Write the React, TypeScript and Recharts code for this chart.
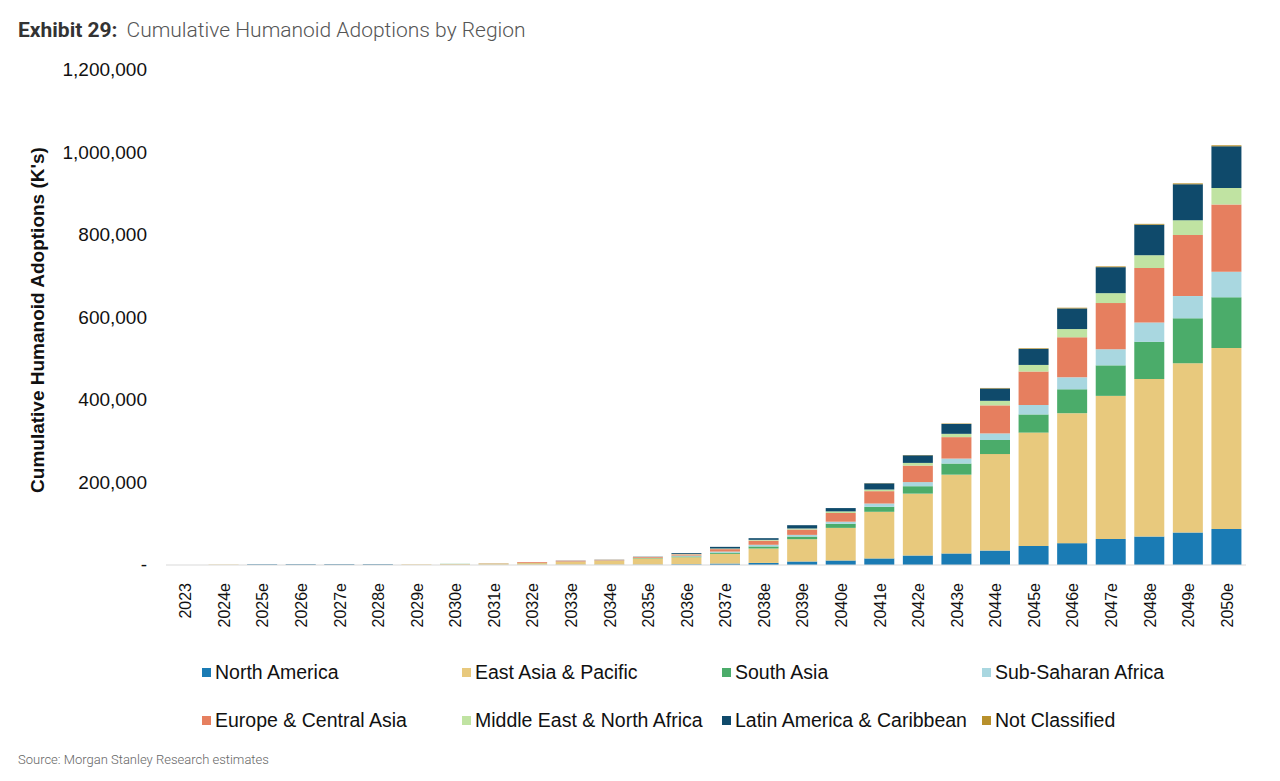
import React from "react";
import { BarChart, Bar, XAxis, YAxis } from "recharts";

const years = [
  "2023", "2024e", "2025e", "2026e", "2027e", "2028e", "2029e", "2030e", "2031e", "2032e",
  "2033e", "2034e", "2035e", "2036e", "2037e", "2038e", "2039e", "2040e", "2041e", "2042e",
  "2043e", "2044e", "2045e", "2046e", "2047e", "2048e", "2049e", "2050e",
];

const northAmerica = [
  0, 0, 1200, 1200, 1200, 1200, 0, 300, 500, 600, 800, 800, 1000, 1800, 3500, 5000, 8500, 11000,
  16000, 23000, 28000, 35000, 46000, 53000, 63000, 69000, 79000, 87000,
];
const eastAsiaPacific = [
  0, 1000, 0, 0, 0, 0, 1500, 2000, 3000, 4000, 7000, 9500, 15000, 17000, 23500, 35000, 54000, 79000,
  113000, 150000, 191000, 234000, 275000, 315000, 347000, 382000, 410000, 439000,
];
const southAsia = [
  0, 0, 0, 0, 0, 0, 0, 500, 300, 300, 400, 500, 1000, 2000, 3000, 5000, 6500, 10000, 12000, 18000,
  27000, 34000, 44000, 58000, 74000, 90000, 109000, 123000,
];
const subSaharanAfrica = [
  0, 0, 0, 0, 0, 0, 0, 0, 0, 0, 200, 300, 500, 2000, 2500, 4000, 4000, 5000, 8000, 10000, 12000,
  16000, 23000, 29000, 39000, 47000, 54000, 62000,
];
const europeCentralAsia = [
  0, 0, 0, 0, 0, 0, 0, 0, 500, 2000, 2000, 1500, 2000, 3000, 6000, 10000, 13000, 21000, 30000,
  40000, 52000, 68000, 81000, 97000, 112000, 132000, 148000, 163000,
];
const middleEastNorthAfrica = [
  0, 0, 0, 0, 0, 0, 0, 0, 0, 0, 100, 200, 300, 1000, 1500, 2000, 2500, 4000, 4000, 6500, 8000,
  11000, 16000, 20000, 24000, 31000, 36000, 40000,
];
const latinAmericaCaribbean = [
  0, 0, 800, 800, 800, 800, 0, 0, 0, 0, 300, 300, 500, 2000, 4000, 4000, 8000, 8000, 15000, 18500,
  24000, 30000, 39000, 50000, 63000, 74000, 87000, 101000,
];
const notClassified = [
  0, 0, 0, 0, 0, 0, 0, 0, 0, 0, 0, 0, 0, 0, 0, 0, 0, 0, 500, 700, 1000, 1200, 1500, 1700, 1900,
  2000, 2200, 2500,
];

const yTicks = [0, 200000, 400000, 600000, 800000, 1000000, 1200000];

const series = [
  { key: "na", name: "North America", color: "#1a7bb4", values: northAmerica },
  { key: "eap", name: "East Asia & Pacific", color: "#e8c97d", values: eastAsiaPacific },
  { key: "sa", name: "South Asia", color: "#4bac6a", values: southAsia },
  { key: "ssa", name: "Sub-Saharan Africa", color: "#a9d7e0", values: subSaharanAfrica },
  { key: "eca", name: "Europe & Central Asia", color: "#e67f5f", values: europeCentralAsia },
  { key: "mena", name: "Middle East & North Africa", color: "#c0e3a2", values: middleEastNorthAfrica },
  { key: "lac", name: "Latin America & Caribbean", color: "#0f4a6b", values: latinAmericaCaribbean },
  { key: "nc", name: "Not Classified", color: "#b8902b", values: notClassified },
];

const data = years.map((year, i) => {
  const row: Record<string, string | number> = { year };
  series.forEach((s) => {
    row[s.key] = s.values[i];
  });
  return row;
});

const axisFont = "'Liberation Sans', Arial, sans-serif";

const YTick = (props: any) => {
  const { y, payload } = props;
  const label = payload.value === 0 ? "-" : payload.value.toLocaleString("en-US");
  return (
    <text x={147} y={y} dy={6} textAnchor="end" fontSize={19} fontFamily={axisFont} fill="#111">
      {label}
    </text>
  );
};

const XTick = (props: any) => {
  const { x, y, payload } = props;
  return (
    <text
      x={0}
      y={0}
      transform={`translate(${x + 6},${y + 10}) rotate(-90)`}
      textAnchor="end"
      fontSize={16}
      fontFamily={axisFont}
      fill="#111"
    >
      {payload.value}
    </text>
  );
};

export default function App() {
  return (
    <div
      style={{
        position: "absolute",
        left: 0,
        top: 0,
        width: 1280,
        height: 781,
        background: "#fff",
        overflow: "hidden",
      }}
    >
      <div
        style={{
          position: "absolute",
          left: 18,
          top: 18,
          fontFamily: "Roboto, sans-serif",
          fontSize: 21,
          whiteSpace: "nowrap",
        }}
      >
        <span style={{ fontWeight: 700, color: "#333" }}>Exhibit 29:</span>
        <span style={{ color: "#555", fontWeight: 300, marginLeft: 9 }}>
          Cumulative Humanoid Adoptions by Region
        </span>
      </div>

      <div
        style={{
          position: "absolute",
          left: 38,
          top: 320,
          transform: "translate(-50%, -50%) rotate(-90deg)",
          fontFamily: axisFont,
          fontWeight: 700,
          fontSize: 19,
          color: "#111",
          whiteSpace: "nowrap",
        }}
      >
        Cumulative Humanoid Adoptions (K's)
      </div>

      <div style={{ position: "absolute", left: 0, top: 0 }}>
        <BarChart
          width={1280}
          height={660}
          data={data}
          margin={{ top: 70, right: 34, bottom: 0, left: 0 }}
          barSize={30}
        >
          <XAxis
            dataKey="year"
            tick={<XTick />}
            tickLine={false}
            axisLine={{ stroke: "#d9d9d9" }}
            height={95}
            interval={0}
          />
          <YAxis
            width={166}
            domain={[0, 1200000]}
            ticks={yTicks}
            tick={<YTick />}
            tickLine={false}
            axisLine={false}
            interval={0}
          />
          {series.map((s) => (
            <Bar
              key={s.key}
              dataKey={s.key}
              name={s.name}
              stackId="a"
              fill={s.color}
              isAnimationActive={false}
            />
          ))}
        </BarChart>
      </div>

      {series.map((s, i) => {
        const col = i % 4;
        const row = Math.floor(i / 4);
        return (
          <div
            key={s.key}
            style={{
              position: "absolute",
              left: 202 + col * 260,
              top: 661 + row * 48,
              display: "flex",
              alignItems: "center",
              fontFamily: axisFont,
              fontSize: 19.5,
              color: "#111",
              whiteSpace: "nowrap",
            }}
          >
            <span
              style={{
                display: "inline-block",
                width: 9,
                height: 9,
                background: s.color,
                marginRight: 4,
              }}
            />
            {s.name}
          </div>
        );
      })}

      <div
        style={{
          position: "absolute",
          left: 18,
          top: 752,
          fontFamily: "Roboto, sans-serif",
          fontSize: 13,
          fontWeight: 300,
          color: "#666",
          whiteSpace: "nowrap",
        }}
      >
        Source: Morgan Stanley Research estimates
      </div>
    </div>
  );
}
